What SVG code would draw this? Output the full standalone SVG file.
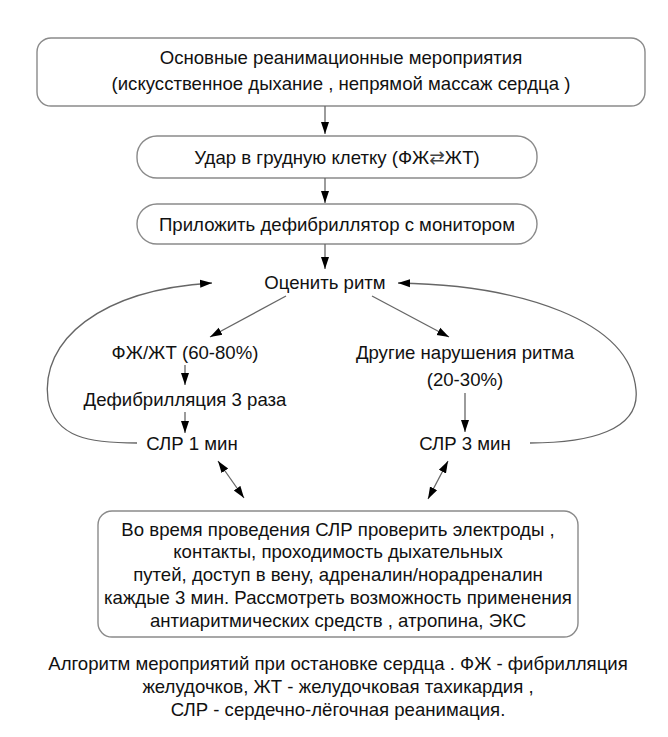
<svg xmlns="http://www.w3.org/2000/svg" width="668" height="737" viewBox="0 0 668 737">
<defs>
<marker id="ah" viewBox="0 0 12 10" refX="12" refY="5" markerWidth="12" markerHeight="10" orient="auto-start-reverse" markerUnits="userSpaceOnUse">
<path d="M0,1 L12,5 L0,9 z" fill="#000"/>
</marker>
<style>
.box{fill:#fff;stroke:#8a8a8a;stroke-width:1.4}
.t{font-family:"Liberation Sans",Arial,sans-serif;font-size:18.6px;fill:#111;text-anchor:middle}
.sym{font-family:"DejaVu Sans",sans-serif;font-weight:normal;fill:#444}
.a{fill:none;stroke:#666;stroke-width:1.3;marker-end:url(#ah)}
.d{fill:none;stroke:#666;stroke-width:1.3;marker-end:url(#ah);marker-start:url(#ah)}
</style>
</defs>
<rect width="668" height="737" fill="#fff"/>
<g id="n1">
<rect class="box" x="37" y="38" width="608" height="68" rx="14"/>
<text class="t" x="341" y="64">Основные реанимационные мероприятия</text>
<text class="t" x="341" y="90">(искусственное дыхание , непрямой массаж сердца )</text>
</g>
<g id="n2">
<rect class="box" x="137" y="136" width="400" height="42" rx="20"/>
<text class="t" x="337" y="164">Удар в грудную клетку  (ФЖ<tspan class="sym">⇄</tspan>ЖТ)</text>
</g>
<g id="n3">
<rect class="box" x="137" y="204" width="400" height="40" rx="20"/>
<text class="t" x="337" y="231">Приложить дефибриллятор с монитором</text>
</g>
<g id="n4"><text class="t" x="325" y="289">Оценить ритм</text></g>
<g id="n5"><text class="t" x="185" y="359">ФЖ/ЖТ (60-80%)</text></g>
<g id="n6"><text class="t" x="465" y="359">Другие нарушения ритма</text><text class="t" x="465" y="386">(20-30%)</text></g>
<g id="n7"><text class="t" x="185" y="406">Дефибрилляция 3 раза</text></g>
<g id="n8"><text class="t" x="192" y="450">СЛР 1 мин</text></g>
<g id="n9"><text class="t" x="465" y="450">СЛР 3 мин</text></g>
<g id="n10">
<rect class="box" x="98" y="511" width="480" height="126" rx="14"/>
<text class="t" x="338" y="536">Во время проведения СЛР проверить электроды ,</text>
<text class="t" x="338" y="558">контакты, проходимость дыхательных</text>
<text class="t" x="338" y="581">путей, доступ в вену, адреналин/норадреналин</text>
<text class="t" x="338" y="604">каждые 3 мин. Рассмотреть возможность применения</text>
<text class="t" x="338" y="627">антиаритмических средств , атропина, ЭКС</text>
</g>
<g id="caption">
<text class="t" x="338" y="670">Алгоритм мероприятий при остановке сердца . ФЖ - фибрилляция</text>
<text class="t" x="338" y="693">желудочков, ЖТ - желудочковая тахикардия ,</text>
<text class="t" x="338" y="716">СЛР - сердечно-лёгочная реанимация.</text>
</g>
<g id="connectors">
<line class="a" x1="325" y1="106" x2="325" y2="134"/>
<line class="a" x1="325" y1="178" x2="325" y2="203"/>
<line class="a" x1="325" y1="244" x2="325" y2="269"/>
<line class="a" x1="286" y1="296" x2="210" y2="337"/>
<line class="a" x1="372" y1="296" x2="449" y2="337"/>
<line class="a" x1="185" y1="365" x2="185" y2="385"/>
<line class="a" x1="185" y1="412" x2="185" y2="433"/>
<line class="a" x1="465" y1="393" x2="465" y2="432"/>
<path class="a" d="M137,443 C90,443 55,438 48,400 C40,340 100,290 212,283"/>
<path class="a" d="M530,443 C590,443 640,430 636,390 C630,320 520,285 398,283"/>
<line class="d" x1="218" y1="461" x2="244" y2="498"/>
<line class="d" x1="448" y1="461" x2="428" y2="499"/>
</g>
</svg>
